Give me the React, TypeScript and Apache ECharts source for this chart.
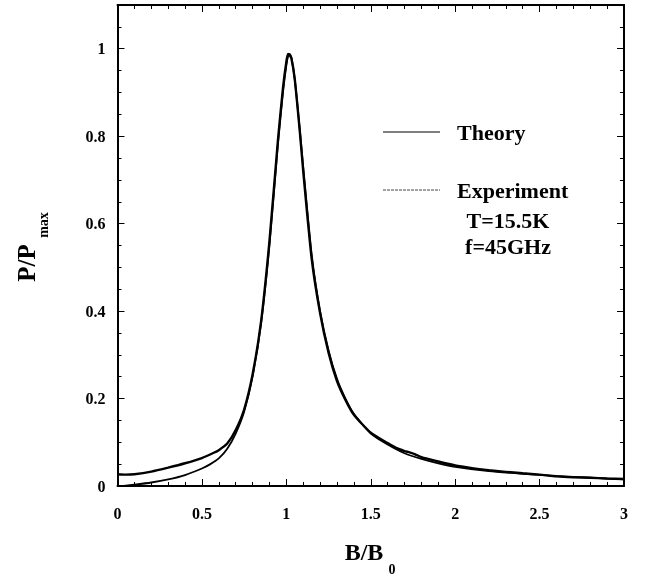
import React, { useEffect, useRef } from "react";
import * as echarts from "echarts";

const bValues = [0, 0.05, 0.1, 0.2, 0.3, 0.4, 0.5, 0.55, 0.6, 0.65, 0.7, 0.75, 0.8, 0.85, 0.9, 0.95, 0.98, 1.0, 1.01, 1.02, 1.03, 1.05, 1.08, 1.1, 1.15, 1.2, 1.25, 1.3, 1.35, 1.4, 1.5, 1.6, 1.7, 1.8, 1.9, 2.0, 2.2, 2.4, 2.6, 2.8, 3.0];
const theory = [0, 0.001, 0.003, 0.008, 0.015, 0.025, 0.04, 0.05, 0.063, 0.085, 0.12, 0.17, 0.25, 0.37, 0.55, 0.78, 0.9, 0.962, 0.982, 0.988, 0.98, 0.93, 0.815, 0.73, 0.53, 0.4, 0.31, 0.245, 0.2, 0.165, 0.12, 0.095, 0.075, 0.062, 0.052, 0.044, 0.034, 0.028, 0.023, 0.019, 0.015];

const expB = [0, 0.05, 0.1, 0.2, 0.3, 0.4, 0.5, 0.57, 0.6, 0.65, 0.7, 0.75, 0.8, 0.85, 0.9, 0.95, 0.98, 1.0, 1.01, 1.02, 1.03, 1.05, 1.08, 1.1, 1.15, 1.2, 1.25, 1.3, 1.35, 1.4, 1.5, 1.6, 1.65, 1.7, 1.73, 1.76, 1.8, 1.9, 2.0, 2.1, 2.2, 2.4, 2.5, 2.6, 2.7, 2.8, 2.9, 3.0];
const experiment = [0.027, 0.026, 0.027, 0.033, 0.042, 0.052, 0.064, 0.076, 0.082, 0.097, 0.128, 0.175, 0.255, 0.375, 0.56, 0.79, 0.91, 0.97, 0.988, 0.985, 0.978, 0.93, 0.81, 0.72, 0.52, 0.395, 0.305, 0.24, 0.197, 0.163, 0.122, 0.098, 0.087, 0.08, 0.077, 0.073, 0.066, 0.056, 0.047, 0.041, 0.036, 0.029, 0.026, 0.022, 0.02, 0.019, 0.017, 0.016];

const xTicks = { min: 0, max: 3, major: 0.5, minorSplit: 5 };
const yTicks = { min: 0, max: 1.1, major: 0.2, minor: 0.05 };

const FONT = "'Liberation Serif', 'Times New Roman', serif";

export default function App() {
  const ref = useRef<HTMLDivElement>(null);
  useEffect(() => {
    if (!ref.current) return;
    const chart = echarts.init(ref.current, null, { renderer: "svg" });
    const lbl = { fontFamily: FONT, fontWeight: "bold" as const, fontSize: 16, color: "#000" };
    const xAxis = (pos: string, showLabel: boolean) => ({
      type: "value", position: pos, min: xTicks.min, max: xTicks.max, interval: xTicks.major,
      axisLine: { show: true, onZero: false, lineStyle: { color: "#000", width: 2 } },
      splitLine: { show: false },
      axisTick: { show: true, inside: true, length: 7 },
      minorTick: { show: true, splitNumber: xTicks.minorSplit, length: 4 },
      axisLabel: showLabel ? { ...lbl, margin: 19 } : { show: false },
    });
    const yAxis = (pos: string, interval: number, len: number, showLine: boolean, showLabel: boolean) => ({
      type: "value", position: pos, min: yTicks.min, max: yTicks.max, interval,
      axisLine: { show: showLine, onZero: false, lineStyle: { color: "#000", width: 2 } },
      splitLine: { show: false },
      axisTick: { show: true, inside: true, length: len },
      axisLabel: showLabel ? { ...lbl, margin: 12, showMaxLabel: false } : { show: false },
    });
    const legendText = { fontFamily: FONT, fontWeight: "bold", fontSize: 22, fill: "#000" };
    chart.setOption({
      animation: false,
      grid: { left: 117.5, right: 26, top: 5, bottom: 95 },
      xAxis: [xAxis("bottom", true), xAxis("top", false)],
      yAxis: [
        yAxis("left", yTicks.major, 7, true, true),
        yAxis("left", yTicks.minor, 4, false, false),
        yAxis("right", yTicks.major, 7, true, false),
        yAxis("right", yTicks.minor, 4, false, false),
      ],
      series: [
        {
          name: "Theory", type: "line", xAxisIndex: 0, yAxisIndex: 0,
          data: bValues.map((b, i) => [b, theory[i]]),
          showSymbol: false, smooth: 0.2,
          lineStyle: { color: "#000", width: 1.8 },
        },
        {
          name: "Experiment", type: "line", xAxisIndex: 0, yAxisIndex: 0,
          data: expB.map((b, i) => [b, experiment[i]]),
          showSymbol: false, smooth: 0.2,
          lineStyle: { color: "#000", width: 2.4 },
        },
      ],
      graphic: [
        { type: "line", shape: { x1: 383, y1: 132, x2: 440, y2: 132 }, style: { stroke: "#000", lineWidth: 1 } },
        { type: "text", x: 457, y: 132, style: { ...legendText, text: "Theory", textAlign: "left", textVerticalAlign: "middle" } },
        { type: "line", shape: { x1: 383, y1: 190, x2: 440, y2: 190 }, style: { stroke: "#444", lineWidth: 1, lineDash: [3, 1] } },
        { type: "text", x: 457, y: 190, style: { ...legendText, text: "Experiment", textAlign: "left", textVerticalAlign: "middle" } },
        { type: "text", x: 508, y: 220, style: { ...legendText, text: "T=15.5K", textAlign: "center", textVerticalAlign: "middle" } },
        { type: "text", x: 508, y: 246, style: { ...legendText, text: "f=45GHz", textAlign: "center", textVerticalAlign: "middle" } },
        { type: "text", x: 364, y: 552, style: { fontFamily: FONT, fontWeight: "bold", fontSize: 24, fill: "#000", text: "B/B", textAlign: "center", textVerticalAlign: "middle" } },
        { type: "text", x: 392, y: 569, style: { fontFamily: FONT, fontWeight: "bold", fontSize: 14, fill: "#000", text: "0", textAlign: "center", textVerticalAlign: "middle" } },
        { type: "text", x: 26, y: 263, rotation: Math.PI / 2, style: { fontFamily: FONT, fontWeight: "bold", fontSize: 25, fill: "#000", text: "P/P", textAlign: "center", textVerticalAlign: "middle" } },
        { type: "text", x: 43, y: 225, rotation: Math.PI / 2, style: { fontFamily: FONT, fontWeight: "bold", fontSize: 14, fill: "#000", text: "max", textAlign: "center", textVerticalAlign: "middle" } },
      ],
    });
    return () => chart.dispose();
  }, []);
  return <div ref={ref} style={{ position: "fixed", left: 0, top: 0, width: 650, height: 581 }} />;
}
